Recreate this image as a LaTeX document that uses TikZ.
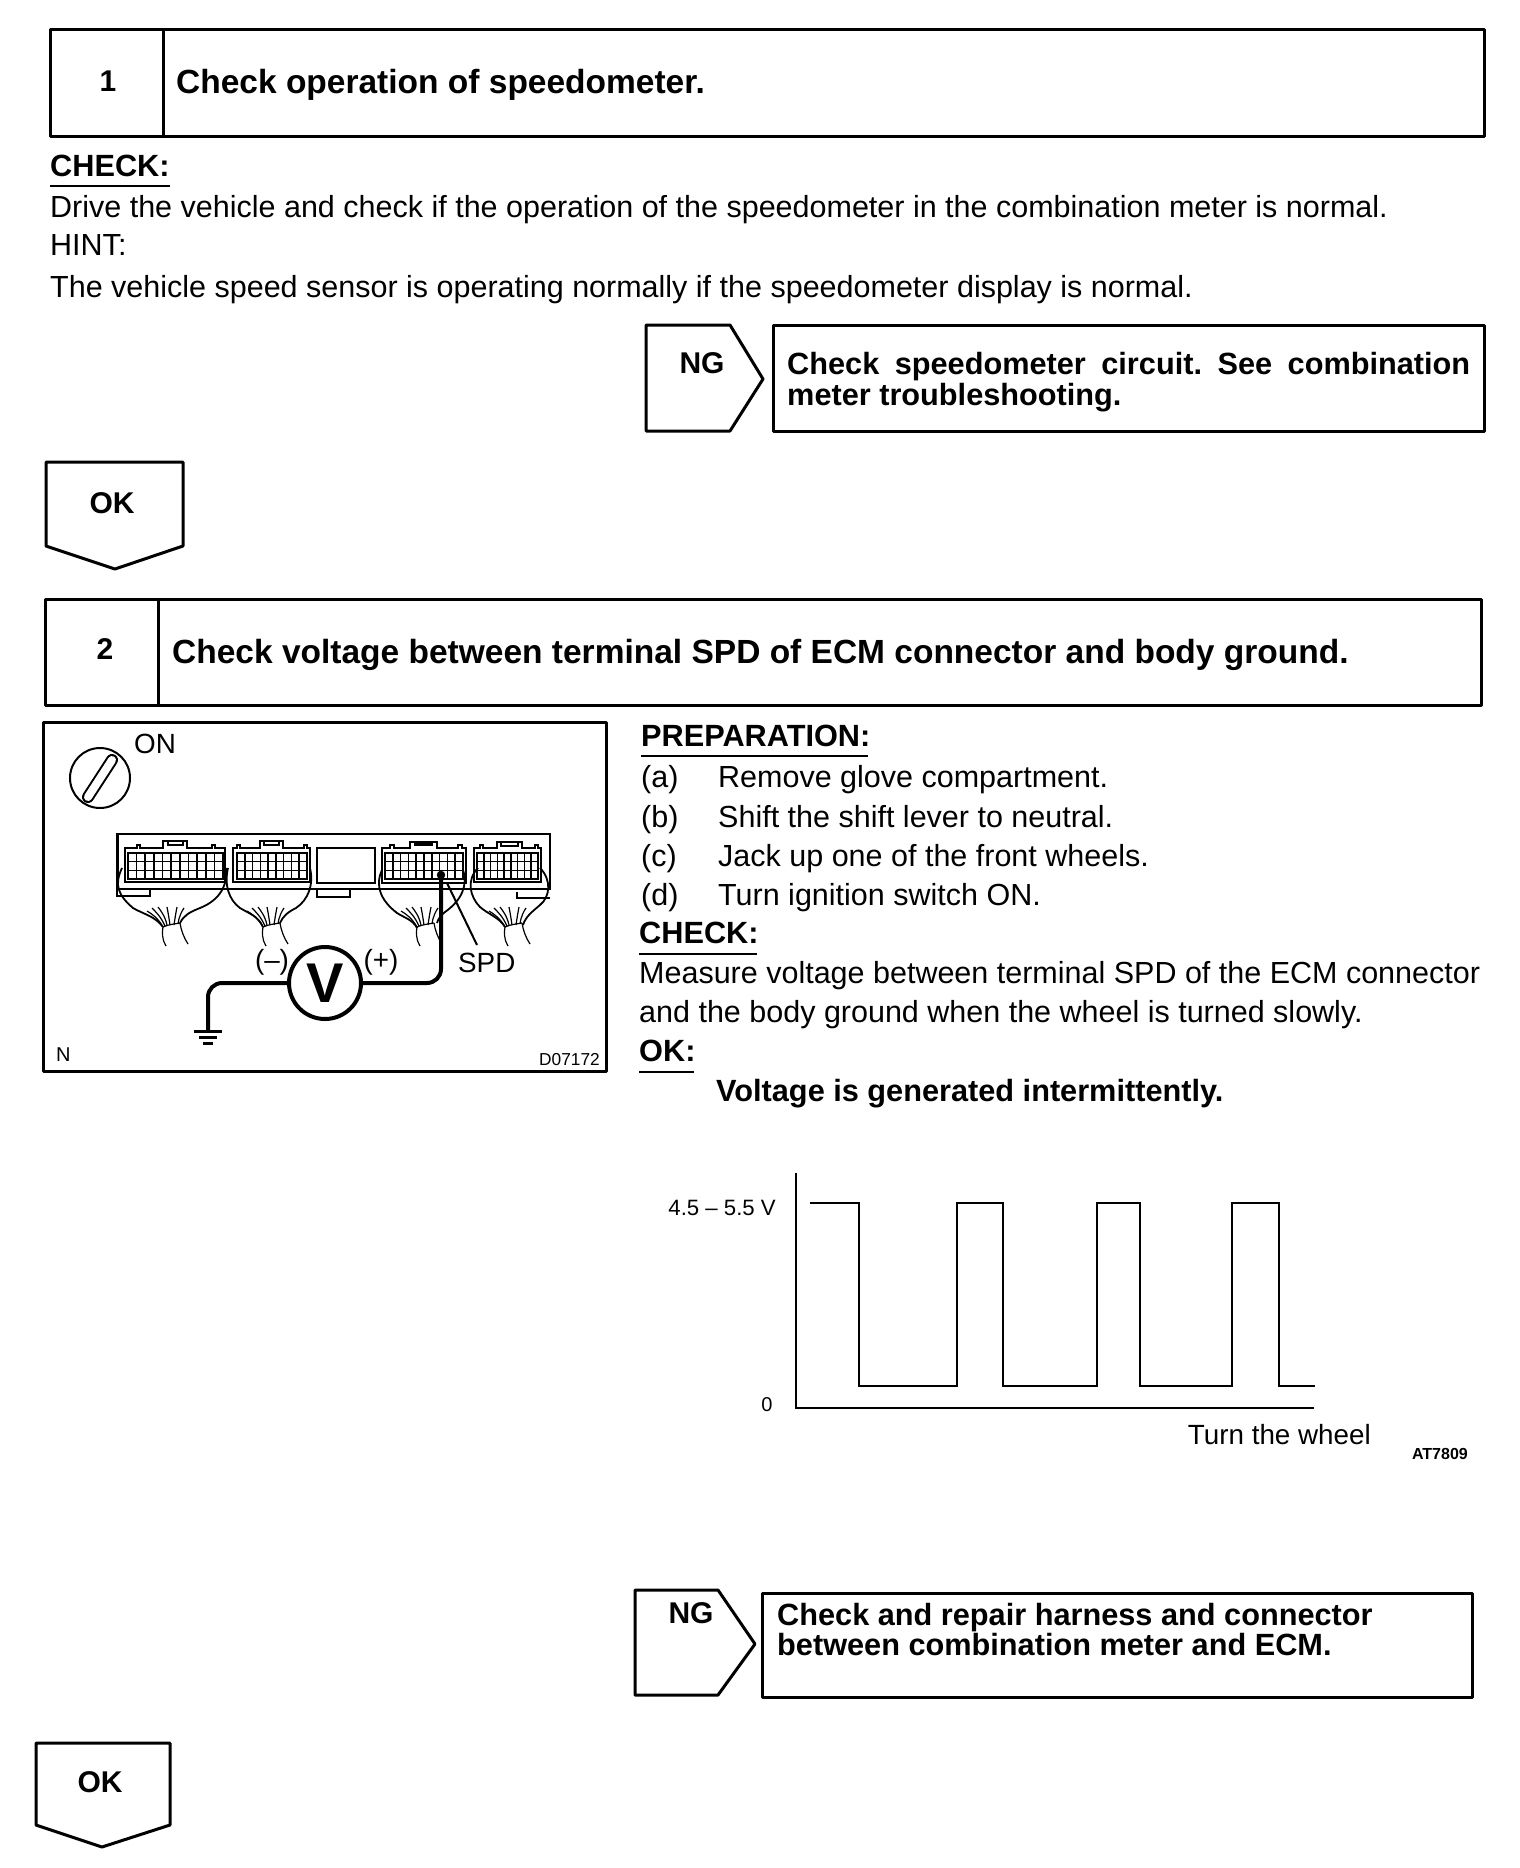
\documentclass[tikz,border=0pt]{standalone}
\usepackage{fontspec}
\setmainfont{Liberation Sans}
\frenchspacing
\tikzset{
  frame/.style={draw=black,line width=3pt,line join=round},
  txt/.style={anchor=base west,inner sep=0pt,font=\fontsize{30.5}{34}\selectfont},
  btxt/.style={anchor=base west,inner sep=0pt,font=\fontsize{30.7}{34}\selectfont\bfseries},
  htxt/.style={anchor=base west,inner sep=0pt,font=\fontsize{33.5}{36}\selectfont\bfseries},
  ctitle/.style={anchor=center,inner sep=0pt,font=\fontsize{30}{34}\selectfont\bfseries},
  ulin/.style={draw=black,line width=2pt},
  thin line/.style={draw=black,line width=2pt},
  fine/.style={draw=black,line width=1.2pt},
  meter/.style={draw=black,line width=4pt,line cap=round},
  lab/.style={inner sep=0pt,font=\fontsize{27.8}{30}\selectfont},
  small/.style={inner sep=0pt,font=\fontsize{16}{18}\selectfont},
}
% grid of connector cavities: x0, y0, x1, y1, columns
\newcommand{\cavgrid}[5]{%
  \foreach \r in {0,1,2}{%
    \foreach \c in {1,...,#5}{%
      \pgfmathsetmacro{\ww}{(#3-#1)/#5}%
      \pgfmathsetmacro{\hh}{(#4-#2)/3}%
      \draw[fine,line width=1.6pt] ({#1+(\c-1)*\ww},{#2+\r*\hh}) rectangle ++(\ww,\hh);
    }%
  }%
}
% fan of wires at harness neck
\newcommand{\fan}[1]{%
  \begin{scope}[xshift=#1pt]
    \draw[fine] (163,927) .. controls (158,918) and (152,914) .. (147,911);
    \draw[fine] (165,926) .. controls (161,917) and (156,912) .. (152,908);
    \draw[fine] (167,925) .. controls (165,916) and (161,911) .. (158,907);
    \draw[fine] (170,925) .. controls (169,918) and (168,912) .. (167,907);
    \draw[fine] (174,925) .. controls (175,918) and (176,912) .. (177,907);
    \draw[fine] (178,924) .. controls (179,916) and (182,911) .. (184,908);
    \draw[fine] (163,927) .. controls (170,924) and (175,924) .. (180,923);
    \draw[fine] (163,927) .. controls (162,932) and (162,940) .. (166,946);
    \draw[fine] (180,923) .. controls (181,930) and (184,938) .. (188,944);
  \end{scope}
}
\begin{document}
\begin{tikzpicture}[x=1pt,y=-1pt]
\useasboundingbox (0,0) rectangle (1520,1868);
\fill[white] (0,0) rectangle (1520,1868);

% --- Step 1
\draw[frame] (50,30) rectangle (1484,136);
\draw[frame] (163,30) -- (163,136);
\node[ctitle] (n1) at (108,81) {1};
\node[htxt] (t1) at (176,93) {Check operation of speedometer.};
\node[btxt] (c1) at (50,176) {CHECK:};
\draw[ulin] (50,186) -- (170,186);
\node[txt] (l1) at (50,217) {Drive the vehicle and check if the operation of the speedometer in the combination meter is normal.};
\node[txt] (l2) at (50,255) {HINT:};
\node[txt] (l3) at (50,297) {The vehicle speed sensor is operating normally if the speedometer display is normal.};

\draw[frame] (646,325) -- (730,325) -- (763,379) -- (730,431) -- (646,431) -- cycle;
\node[ctitle] (ng1) at (702,363) {NG};
\draw[frame] (773,325) rectangle (1484,431);
\node[btxt] (a1) at (787,374) {\makebox[683pt][s]{Check speedometer circuit. See combination}};
\node[btxt] (a2) at (787,405) {meter troubleshooting.};

\draw[frame] (46,462) -- (183,462) -- (183,546) -- (115,569) -- (46,546) -- cycle;
\node[ctitle] (ok1) at (112,503) {OK};

% --- Step 2
\draw[frame] (45,599) rectangle (1481,705);
\draw[frame] (158,599) -- (158,705);
\node[ctitle] (n2) at (105,649) {2};
\node[htxt] (t2) at (172,663) {Check voltage between terminal SPD of ECM connector and body ground.};

% --- Illustration
\draw[frame] (43,722) rectangle (606,1071);
% key switch
\draw[thin line] (100,778) circle (30);
\draw[line width=12pt,line cap=round] (88,797) -- (112,760);
\draw[white,line width=8pt,line cap=round] (88,797) -- (112,760);
\node[lab,anchor=base west] (on) at (134,753) {ON};
\node[lab,anchor=base west,font=\fontsize{20}{22}\selectfont] (nn) at (56,1061) {N};
\node[small,anchor=base east,font=\fontsize{17.3}{20}\selectfont] (dc) at (600,1065) {D07172};

% ECM connector block
\draw[thin line] (117,834) rectangle (550,889);
\draw[line width=3pt] (117,834) -- (117,889);
\draw[fine] (117,889) -- (117,896) -- (150,896) -- (150,889);
\draw[fine] (317,889) -- (317,897) -- (350,897) -- (350,889);
\draw[fine] (517,892) -- (517,898) -- (550,898);
% connector 1
\draw[thin line] (125,882) -- (125,848) -- (137,848) -- (137,845) -- (140,845) -- (140,848) -- (163,848) -- (163,841) -- (187,841) -- (187,848) -- (212,848) -- (212,845) -- (215,845) -- (215,848) -- (225,848) -- (225,882) -- cycle;
\draw[fine] (168,841) rectangle (183,845);
\cavgrid{128}{853}{223}{879}{11}
% connector 2
\draw[thin line] (233,882) -- (233,848) -- (237,848) -- (237,845) -- (240,845) -- (240,848) -- (260,848) -- (260,841) -- (283,841) -- (283,848) -- (304,848) -- (304,845) -- (307,845) -- (307,848) -- (310,848) -- (310,882) -- cycle;
\draw[fine] (264,841) rectangle (279,845);
\cavgrid{237}{853}{307}{879}{9}
% blank window
\draw[line width=2.6pt] (317,848) rectangle (375,883);
% connector 3
\draw[line width=2.6pt] (382,883) -- (382,848) -- (390,848) -- (390,845) -- (394,845) -- (394,848) -- (410,848) -- (410,842) -- (437,842) -- (437,848) -- (458,848) -- (458,845) -- (462,845) -- (462,848) -- (466,848) -- (466,883) -- cycle;
\fill (414,842) rectangle (433,846);
\cavgrid{385}{853}{463}{879}{10}
% connector 4
\draw[fine,line width=1.6pt] (474,882) -- (474,848) -- (480,848) -- (480,845) -- (483,845) -- (483,848) -- (497,848) -- (497,842) -- (522,842) -- (522,848) -- (535,848) -- (535,845) -- (538,845) -- (538,848) -- (541,848) -- (541,882) -- cycle;
\draw[fine] (501,842) rectangle (518,846);
\cavgrid{477}{853}{538}{879}{9}
% harness outlines
\draw[fine,line width=1.8pt] (122,868) .. controls (114,885) and (118,895) .. (133,908) .. controls (143,914) and (155,916) .. (163,927);
\draw[fine,line width=1.8pt] (226,868) .. controls (228,885) and (220,900) .. (200,908) .. controls (190,912) and (184,915) .. (180,923);
\fan{0}
\draw[fine,line width=1.8pt] (228,868) .. controls (224,885) and (229,900) .. (240,908) .. controls (250,914) and (258,916) .. (263,927);
\draw[fine,line width=1.8pt] (310,868) .. controls (314,885) and (308,900) .. (296,908) .. controls (288,912) and (283,916) .. (280,923);
\fan{100}
\draw[fine,line width=1.8pt] (382,870) .. controls (375,885) and (380,900) .. (397,913) .. controls (405,918) and (413,920) .. (417,928);
\draw[fine,line width=1.8pt] (463,870) .. controls (468,885) and (462,900) .. (445,912) .. controls (441,915) and (438,919) .. (437,923);
\fan{254}
\draw[fine,line width=1.8pt] (478,868) .. controls (466,880) and (470,897) .. (480,907) .. controls (488,914) and (500,918) .. (505,927);
\draw[fine,line width=1.8pt] (540,868) .. controls (552,880) and (550,897) .. (540,905) .. controls (532,912) and (526,916) .. (523,925);
\fan{342}

% meter and wires
\node[circle,draw=black,line width=4pt,minimum size=72pt,inner sep=0pt,font=\fontsize{56}{56}\selectfont] (vm) at (325,983) {\textbf{V}};
\coordinate (pinspd) at (441,875);
\coordinate (gnd) at (208,1031);
\draw[meter,rounded corners=14pt] (vm.east) -- (441,983) -- (pinspd);
\draw[meter,rounded corners=14pt] (vm.west) -- (208,983) -- (gnd);
\draw[line width=3pt] (194,1031) -- (222,1031);
\draw[line width=3pt] (199,1037) -- (217,1037);
\draw[line width=3pt] (203,1043) -- (213,1043);
\draw[fill=black] (pinspd) circle (4);
\coordinate (spdtip) at (477,945);
\draw[thin line] (447,883) -- (spdtip);
\node[lab,anchor=base west] (spd) at (458,972) {SPD};
\node[lab] (minus) at (272,962) {(–)};
\node[lab] (plus) at (381,962) {(+)};

% --- Preparation
\node[btxt] (pr) at (641,746) {PREPARATION:};
\draw[ulin] (641,756) -- (868,756);
\node[txt] (pa) at (641,787) {(a)};
\node[txt] (pat) at (718,787) {Remove glove compartment.};
\node[txt] (pb) at (641,827) {(b)};
\node[txt] (pbt) at (718,827) {Shift the shift lever to neutral.};
\node[txt] (pc) at (641,866) {(c)};
\node[txt] (pct) at (718,866) {Jack up one of the front wheels.};
\node[txt] (pd) at (641,905) {(d)};
\node[txt] (pdt) at (718,905) {Turn ignition switch ON.};
\node[btxt] (c2) at (639,943) {CHECK:};
\draw[ulin] (639,954) -- (757,954);
\node[txt] (m1) at (639,983) {Measure voltage between terminal SPD of the ECM connector};
\node[txt] (m2) at (639,1022) {and the body ground when the wheel is turned slowly.};
\node[btxt] (ok) at (639,1061) {OK:};
\draw[ulin] (639,1072) -- (694,1072);
\node[btxt] (vg) at (716,1101) {Voltage is generated intermittently.};

% --- Waveform
\draw[fine,line width=1.8pt] (796,1173) -- (796,1408) -- (1314,1408);
\draw[thin line,line width=2.2pt] (810,1203) -- (859,1203) -- (859,1386) -- (957,1386) -- (957,1203) -- (1003,1203) -- (1003,1386) -- (1097,1386) -- (1097,1203) -- (1140,1203) -- (1140,1386) -- (1232,1386) -- (1232,1203) -- (1279,1203) -- (1279,1386) -- (1315,1386);
\node[lab,anchor=base east,font=\fontsize{22.2}{26}\selectfont] (v45) at (776,1215) {4.5 – 5.5 V};
\node[lab,font=\fontsize{20}{24}\selectfont] (v0) at (767,1405) {0};
\node[lab,anchor=base east] (tw) at (1371,1444) {Turn the wheel};
\node[small,anchor=base east,font=\fontsize{16}{18}\selectfont\bfseries] (at) at (1468,1459) {AT7809};

% --- NG 2
\draw[frame] (635,1590) -- (718,1590) -- (755,1644) -- (718,1695) -- (635,1695) -- cycle;
\node[ctitle] (ng2) at (691,1613) {NG};
\draw[frame] (762,1593) rectangle (1472,1697);
\node[btxt] (b1) at (777,1625) {Check and repair harness and connector};
\node[btxt] (b2) at (777,1655) {between combination meter and ECM.};

% --- OK 2
\draw[frame] (36,1743) -- (170,1743) -- (170,1825) -- (102,1847) -- (36,1825) -- cycle;
\node[ctitle] (ok2) at (100,1782) {OK};
\end{tikzpicture}
\end{document}
